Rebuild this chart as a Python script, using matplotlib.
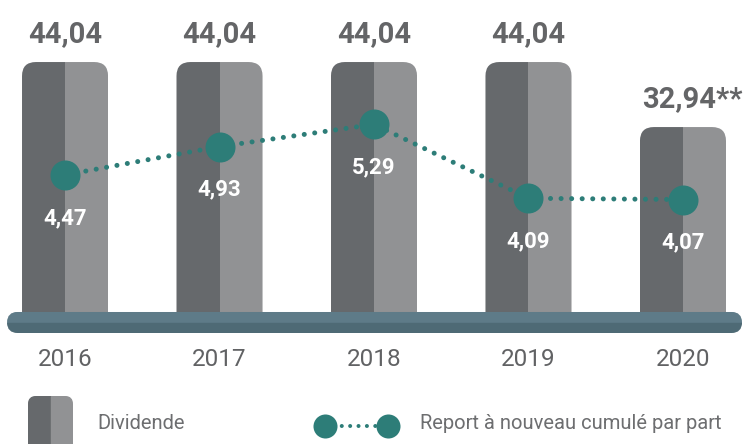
import matplotlib.pyplot as plt
from matplotlib.patches import FancyBboxPatch, Rectangle

# data
years = ["2016", "2017", "2018", "2019", "2020"]
dividende = [44.04, 44.04, 44.04, 44.04, 32.94]
dividende_labels = ["44,04", "44,04", "44,04", "44,04", "32,94**"]
report = [4.47, 4.93, 5.29, 4.09, 4.07]
report_labels = ["4,47", "4,93", "5,29", "4,09", "4,07"]

dark = "#66696c"
light = "#919294"
teal = "#2d7d78"
base_light = "#5e7b88"
base_dark = "#4e6a75"

plt.rcParams["font.family"] = ["Roboto", "DejaVu Sans"]

W, H = 744, 444
fig = plt.figure(figsize=(W / 100, H / 100), dpi=100)
ax = fig.add_axes([0, 0, 1, 1])
ax.set_xlim(-0.421, 4.395)
ax.set_ylim(-21.17, 54.63)
ax.axis("off")

# pixels per data unit -> aspect for rounded corners
px_x = W / (4.395 + 0.421)
px_y = H / (54.63 + 21.17)
aspect = px_x / px_y

x = list(range(len(years)))
bw = 0.557
bottom = -1.5

# rounded two-tone bars
for i, v in zip(x, dividende):
    shape = FancyBboxPatch((i - bw / 2, bottom), bw, v - bottom,
                           boxstyle="round,pad=0,rounding_size=0.09",
                           mutation_aspect=aspect, fc="none", ec="none")
    ax.add_patch(shape)
    left = ax.bar(i - bw / 4, v - bottom, width=bw / 2, bottom=bottom,
                  color=dark, zorder=2)
    right = ax.bar(i + bw / 4, v - bottom, width=bw / 2, bottom=bottom,
                   color=light, zorder=2)
    for b in list(left) + list(right):
        b.set_clip_path(shape)

for i, v, lbl in zip(x, dividende, dividende_labels):
    # the "**" hangs to the right of the centred number
    dx = 7 if lbl.endswith("**") else 0
    ax.annotate(lbl, (i, v), xytext=(dx, 14), textcoords="offset points",
                ha="center", va="baseline", fontsize=21, fontweight="bold",
                color="#646567")

# base bar
bx0, bx1 = -0.375, 4.382
by0, by1 = -2.22, 1.37
base = FancyBboxPatch((bx0, by0), bx1 - bx0, by1 - by0,
                      boxstyle="round,pad=0,rounding_size=0.068",
                      mutation_aspect=aspect, fc="none", ec="none")
ax.add_patch(base)
r1 = ax.add_patch(Rectangle((bx0, -0.5), bx1 - bx0, by1 + 0.5,
                            color=base_light, zorder=5))
r2 = ax.add_patch(Rectangle((bx0, by0), bx1 - bx0, -0.5 - by0,
                            color=base_dark, zorder=5))
r1.set_clip_path(base)
r2.set_clip_path(base)

for i, y in zip(x, years):
    ax.text(i, -6.7, y, ha="center", va="center", fontsize=17.5,
            color="#616264")

# report line on its own scale
ax2 = ax.twinx()
ax2.set_ylim(0.10, 7.31)
ax2.axis("off")
ax2.plot(x, report, color=teal, lw=3.6, linestyle=(0, (0.01, 2.1)),
         dash_capstyle="round", zorder=3)
ax2.scatter(x, report, s=467, color=teal, zorder=4, linewidths=0)
for i, v, lbl in zip(x, report, report_labels):
    ax2.annotate(lbl, (i, v), xytext=(0, -31), textcoords="offset points",
                 ha="center", va="center", fontsize=16, fontweight="bold",
                 color="white")


# legend, placed in figure pixels
def fx(px):
    return px / W


def fy(py):
    return 1 - py / H


icon = FancyBboxPatch((fx(28), fy(460)), fx(73) - fx(28), fy(396) - fy(460),
                      boxstyle="round,pad=0,rounding_size=0.0108",
                      mutation_aspect=W / H, transform=ax.transAxes,
                      fc="none", ec="none")
ax.add_patch(icon)
ic1 = ax.add_patch(Rectangle((fx(28), fy(460)), fx(51) - fx(28), fy(396) - fy(460),
                             transform=ax.transAxes, color=dark))
ic2 = ax.add_patch(Rectangle((fx(51), fy(460)), fx(73) - fx(51), fy(396) - fy(460),
                             transform=ax.transAxes, color=light))
ic1.set_clip_path(icon)
ic2.set_clip_path(icon)
ax.text(fx(97), fy(423), "Dividende", transform=ax.transAxes, va="center",
        fontsize=14.5, color="#6d6e70")

ax.plot([fx(325), fx(388)], [fy(426), fy(426)], transform=ax.transAxes,
        color=teal, lw=2.9, linestyle=(0, (0.01, 2.07)), dash_capstyle="round",
        marker="o", markersize=17.3, markevery=[0, 1], markeredgewidth=0,
        clip_on=False)
ax.text(fx(420), fy(423), "Report à nouveau cumulé par part",
        transform=ax.transAxes, va="center", fontsize=14.5, color="#6d6e70")

fig.savefig("out.png", dpi=100)
